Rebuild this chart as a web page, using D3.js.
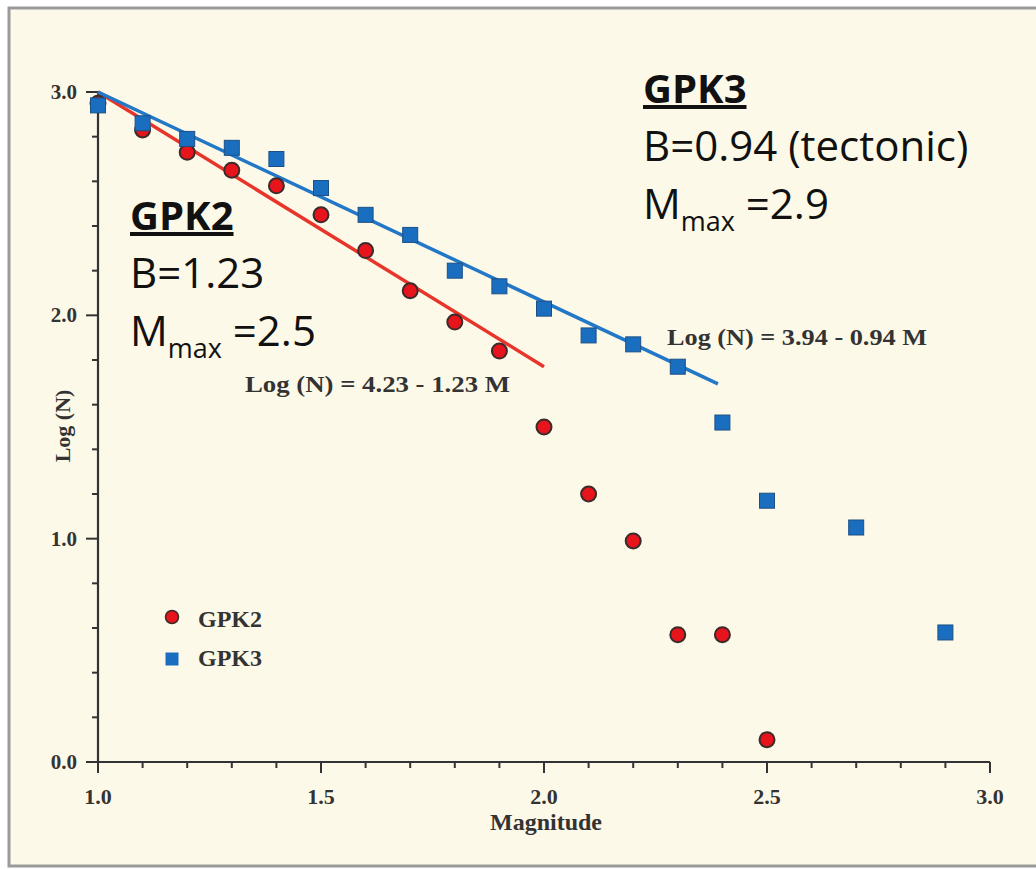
<!DOCTYPE html>
<html><head><meta charset="utf-8">
<script src="https://cdn.jsdelivr.net/npm/d3@7"></script>
<style>
html,body{margin:0;padding:0;background:#fff;}
svg{display:block;}
</style></head>
<body>
<svg id="chart" width="1036" height="869"></svg>
<script>
// ---- data ----
const gpk2Mag  = [1.0, 1.1, 1.2, 1.3, 1.4, 1.5, 1.6, 1.7, 1.8, 1.9, 2.0, 2.1, 2.2, 2.3, 2.4, 2.5];
const gpk2LogN = [2.95, 2.83, 2.73, 2.65, 2.58, 2.45, 2.29, 2.11, 1.97, 1.84, 1.50, 1.20, 0.99, 0.57, 0.57, 0.10];
const gpk3Mag  = [1.0, 1.1, 1.2, 1.3, 1.4, 1.5, 1.6, 1.7, 1.8, 1.9, 2.0, 2.1, 2.2, 2.3, 2.4, 2.5, 2.7, 2.9];
const gpk3LogN = [2.94, 2.86, 2.79, 2.75, 2.70, 2.57, 2.45, 2.36, 2.20, 2.13, 2.03, 1.91, 1.87, 1.77, 1.52, 1.17, 1.05, 0.58];
const fitGpk2 = {a: 4.23, b: 1.23, from: 1.0, to: 2.0};
const fitGpk3 = {a: 3.94, b: 0.94, from: 1.0, to: 2.39};
const xTickLabels = ["1.0", "1.5", "2.0", "2.5", "3.0"];
const yTickLabels = ["0.0", "1.0", "2.0", "3.0"];

const svg = d3.select("#chart");
// background & frame
svg.append("rect").attr("x",0).attr("y",0).attr("width",1036).attr("height",869).attr("fill","#ffffff");
svg.append("rect").attr("x",9).attr("y",8).attr("width",1040).attr("height",858)
   .attr("fill","#fdf9e8").attr("stroke","#9a9a9a").attr("stroke-width",3);

const x = d3.scaleLinear().domain([1,3]).range([98,990]);
const y = d3.scaleLinear().domain([0,3]).range([762,92]);

const axisColor = "#333";
const serif = "'Liberation Serif','DejaVu Serif',serif";

// x axis
const gx = svg.append("g").attr("transform",`translate(0,${y(0)})`);
gx.append("line").attr("x1",x(1)).attr("x2",x(3)).attr("stroke",axisColor).attr("stroke-width",2.2);
const xMinor = d3.range(1,3.0001,0.1);
gx.selectAll("line.t").data(xMinor).join("line").attr("class","t")
  .attr("x1",d=>x(d)).attr("x2",d=>x(d)).attr("y1",0)
  .attr("y2",d=> (Math.abs(d*2-Math.round(d*2))<1e-6)?11:6)
  .attr("stroke",axisColor).attr("stroke-width",2);
gx.selectAll("text").data(xTickLabels).join("text")
  .attr("x",d=>x(+d)).attr("y",42).attr("text-anchor","middle")
  .attr("font-family",serif).attr("font-weight","bold").attr("font-size",22).attr("fill","#333")
  .text(d=>d);
svg.append("text").attr("x",x(2)+2).attr("y",830).attr("text-anchor","middle")
  .attr("font-family",serif).attr("font-weight","bold").attr("font-size",24).attr("fill","#333")
  .text("Magnitude");

// y axis
const gy = svg.append("g").attr("transform",`translate(${x(1)},0)`);
gy.append("line").attr("y1",y(0)).attr("y2",y(3)).attr("stroke",axisColor).attr("stroke-width",2.2);
const yMinor = d3.range(0,3.0001,0.2);
gy.selectAll("line.t").data(yMinor).join("line").attr("class","t")
  .attr("y1",d=>y(d)).attr("y2",d=>y(d)).attr("x1",0)
  .attr("x2",d=> (Math.abs(d-Math.round(d))<1e-6)?-12:-6)
  .attr("stroke",axisColor).attr("stroke-width",2);
gy.selectAll("text").data(yTickLabels).join("text")
  .attr("x",-21).attr("y",d=>y(+d)+7).attr("text-anchor","end")
  .attr("font-family",serif).attr("font-weight","bold").attr("font-size",21).attr("fill","#333")
  .text(d=>d);
svg.append("text").attr("transform",`translate(70,426) rotate(-90)`).attr("text-anchor","middle")
  .attr("font-family",serif).attr("font-weight","bold").attr("font-size",22).attr("fill","#333")
  .text("Log (N)");

// fit lines
function fitLine(f,color){
  const pts=[f.from,f.to].map(m=>[x(m),y(f.a-f.b*m)]);
  svg.append("path").attr("d",d3.line()(pts)).attr("stroke",color).attr("stroke-width",3.5).attr("fill","none");
}
fitLine(fitGpk2,"#e8352c");
fitLine(fitGpk3,"#2277c6");

// markers
const gpk2 = gpk2Mag.map((m,i)=>({m, v:gpk2LogN[i]}));
const gpk3 = gpk3Mag.map((m,i)=>({m, v:gpk3LogN[i]}));
svg.append("g").selectAll("circle").data(gpk2).join("circle")
  .attr("cx",d=>x(d.m)).attr("cy",d=>y(d.v)).attr("r",7.5)
  .attr("fill","#e8141b").attr("stroke","#3b2b2b").attr("stroke-width",2);
svg.append("g").selectAll("rect").data(gpk3).join("rect")
  .attr("x",d=>x(d.m)-7.5).attr("y",d=>y(d.v)-7.5).attr("width",15).attr("height",15)
  .attr("fill","#1a6ec0").attr("stroke","#1c4f86").attr("stroke-width",1);

// equations
svg.append("text").attr("x",245).attr("y",392)
  .attr("font-family",serif).attr("font-weight","bold").attr("font-size",24).attr("fill","#333")
  .attr("textLength",265).attr("lengthAdjust","spacingAndGlyphs")
  .text("Log (N) = 4.23 - 1.23 M");
svg.append("text").attr("x",667).attr("y",345)
  .attr("font-family",serif).attr("font-weight","bold").attr("font-size",24).attr("fill","#333")
  .attr("textLength",260).attr("lengthAdjust","spacingAndGlyphs")
  .text("Log (N) = 3.94 - 0.94 M");

// legend
const lg = svg.append("g");
lg.append("circle").attr("cx",172).attr("cy",617).attr("r",6.5).attr("fill","#e8141b").attr("stroke","#3b2b2b").attr("stroke-width",1.5);
lg.append("rect").attr("x",165.5).attr("y",652.5).attr("width",13).attr("height",13).attr("fill","#1a6ec0");
lg.append("text").attr("x",198).attr("y",627).attr("font-family",serif).attr("font-weight","bold").attr("font-size",24).attr("fill","#333").text("GPK2");
lg.append("text").attr("x",198).attr("y",666).attr("font-family",serif).attr("font-weight","bold").attr("font-size",24).attr("fill","#333").text("GPK3");

// annotations
const sans = "'Open Sans','Noto Sans',sans-serif";
function annot(x0, y0, title, bText, mText){
  svg.append("text").attr("x",x0).attr("y",y0).attr("font-family",sans).attr("font-weight","bold")
    .attr("font-size",40).attr("fill","#111").attr("text-decoration","underline").text(title);
  svg.append("text").attr("x",x0).attr("y",y0+58).attr("font-family",sans)
    .attr("font-size",42).attr("fill","#111").text(bText);
  const t = svg.append("text").attr("x",x0).attr("y",y0+116).attr("font-family",sans)
    .attr("font-size",42).attr("fill","#111");
  t.append("tspan").text("M");
  t.append("tspan").attr("font-size",27).attr("dy",12).text("max");
  t.append("tspan").attr("dy",-12).text(" =" + mText);
}
annot(643,103,"GPK3","B=0.94 (tectonic)","2.9");
annot(130,230,"GPK2","B=1.23","2.5");
</script>
</body></html>
